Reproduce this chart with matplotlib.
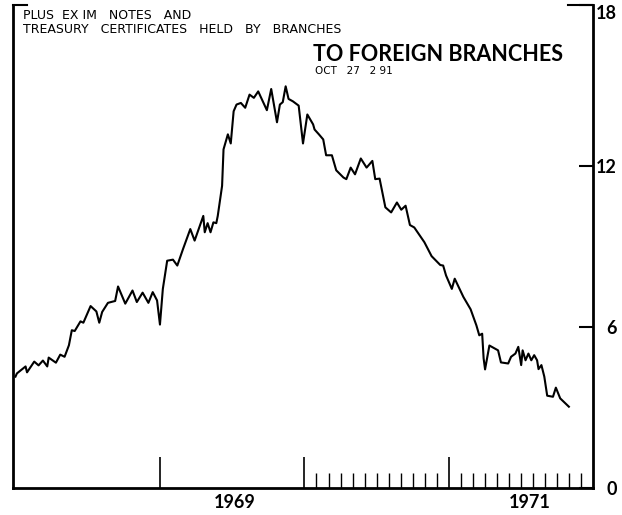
import matplotlib
matplotlib.use("Agg")
import matplotlib.pyplot as plt

# Decimal-year dates and values (billions of dollars)
dates = [1968.00, 1968.01, 1968.07, 1968.08, 1968.13, 1968.16, 1968.19, 1968.22, 1968.23, 1968.28,
         1968.31, 1968.34, 1968.37, 1968.39, 1968.41, 1968.45, 1968.47, 1968.52, 1968.56, 1968.58,
         1968.60, 1968.64, 1968.69, 1968.71, 1968.76, 1968.81, 1968.84, 1968.88, 1968.92, 1968.95,
         1968.98, 1969.00, 1969.02, 1969.05, 1969.09, 1969.12, 1969.16, 1969.21, 1969.24, 1969.27,
         1969.30, 1969.31, 1969.33, 1969.35, 1969.37, 1969.39, 1969.40, 1969.43, 1969.44, 1969.47,
         1969.49, 1969.51, 1969.53, 1969.56, 1969.59, 1969.62, 1969.65, 1969.68, 1969.74, 1969.77,
         1969.81, 1969.83, 1969.85, 1969.87, 1969.89, 1969.92, 1969.96, 1969.99, 1970.02, 1970.06,
         1970.07, 1970.10, 1970.13, 1970.15, 1970.19, 1970.22, 1970.27, 1970.29, 1970.32, 1970.35,
         1970.39, 1970.43, 1970.47, 1970.49, 1970.52, 1970.56, 1970.60, 1970.64, 1970.67, 1970.70,
         1970.73, 1970.76, 1970.83, 1970.88, 1970.94, 1970.96, 1970.98, 1971.02, 1971.04, 1971.10,
         1971.15, 1971.19, 1971.21, 1971.23, 1971.24, 1971.25, 1971.28, 1971.34, 1971.36, 1971.41,
         1971.43, 1971.46, 1971.48, 1971.50, 1971.51, 1971.53, 1971.55, 1971.57, 1971.59, 1971.61,
         1971.62, 1971.64, 1971.66, 1971.68, 1971.72, 1971.74, 1971.77, 1971.83]
values = [4.15, 4.27, 4.53, 4.31, 4.71, 4.57, 4.75, 4.53, 4.86, 4.67,
          4.97, 4.89, 5.32, 5.88, 5.85, 6.21, 6.16, 6.78, 6.58, 6.16,
          6.56, 6.90, 6.97, 7.51, 6.87, 7.36, 6.93, 7.28, 6.90, 7.30,
          6.99, 6.09, 7.42, 8.47, 8.51, 8.29, 8.91, 9.65, 9.22, 9.68,
          10.14, 9.53, 9.87, 9.53, 9.90, 9.87, 10.14, 11.26, 12.62, 13.18,
          12.84, 14.04, 14.29, 14.35, 14.17, 14.66, 14.54, 14.78, 14.08, 14.87,
          13.63, 14.29, 14.38, 14.97, 14.50, 14.41, 14.25, 12.84, 13.92, 13.55,
          13.36, 13.18, 12.99, 12.40, 12.40, 11.84, 11.57, 11.51, 11.94, 11.69,
          12.28, 11.94, 12.19, 11.51, 11.53, 10.46, 10.27, 10.64, 10.37, 10.52,
          9.80, 9.71, 9.16, 8.64, 8.31, 8.29, 7.92, 7.42, 7.80, 7.12,
          6.66, 6.06, 5.69, 5.75, 4.83, 4.42, 5.31, 5.13, 4.68, 4.64,
          4.89, 5.01, 5.26, 4.58, 5.13, 4.76, 5.01, 4.76, 4.95, 4.76,
          4.43, 4.58, 4.15, 3.44, 3.40, 3.74, 3.34, 3.03]

y_ticks = [0, 6, 12, 18]
y_tick_labels = ["0", "6", "12", "18"]
year_ticks = [1969, 1970, 1971]
year_labels = ["1969", "1971"]
year_label_pos = [1969.52, 1971.56]
month_ticks = [1970 + m / 12 for m in range(1, 12)] + [1971 + m / 12 for m in range(1, 12)]

title = "TO FOREIGN BRANCHES"
subtitle = "OCT   27   2 91"
note = "PLUS  EX IM   NOTES   AND\nTREASURY   CERTIFICATES   HELD   BY   BRANCHES"

fig = plt.figure(figsize=(6.22, 5.15), dpi=100)
ax = fig.add_axes([13 / 622, 1 - 488 / 515, 580 / 622, 483 / 515])
ax.plot(dates, values, color="black", lw=1.5)

ax.set_xlim(1967.983, 1971.997)
ax.set_ylim(0, 18)

for s in ["left", "right", "bottom"]:
    ax.spines[s].set_linewidth(2.0)
ax.spines["top"].set_visible(False)

ax.yaxis.tick_right()
ax.set_yticks(y_ticks)
ax.set_yticklabels(y_tick_labels, fontsize=13, fontweight="bold", family="Lato")
ax.tick_params(axis="y", which="major", direction="in", length=10, width=1.5, pad=17,
               right=True, left=False)
for lab in ax.get_yticklabels():
    lab.set_horizontalalignment("right")
ax.get_yticklabels()[-1].set_verticalalignment("top")

ax.set_xticks(year_ticks)
ax.set_xticklabels([])
ax.tick_params(axis="x", which="major", direction="in", length=22, width=1.2)
ax.set_xticks(month_ticks, minor=True)
ax.tick_params(axis="x", which="minor", direction="in", length=11, width=1.0)

for lab, pos in zip(year_labels, year_label_pos):
    ax.text(pos, -0.22, lab, ha="center", va="top", fontsize=13, fontweight="bold",
            family="Lato")

ax.text(1968.05, 17.85, note, ha="left", va="top", fontsize=9, family="DejaVu Sans",
        linespacing=1.05)
ax.text(1970.06, 16.55, title, ha="left", va="top", fontsize=15.5, fontweight="bold", family="Lato")
ax.text(1970.07, 15.72, subtitle, ha="left", va="top", fontsize=7.5, family="DejaVu Sans")

# corner marks at the top of both vertical axes
ax.axhline(18, xmin=0, xmax=14 / 580, color="black", lw=1.5, clip_on=False)
ax.axhline(18, xmin=1 - 25 / 580, xmax=1, color="black", lw=1.5, clip_on=False)

fig.savefig("out.png", dpi=100)
